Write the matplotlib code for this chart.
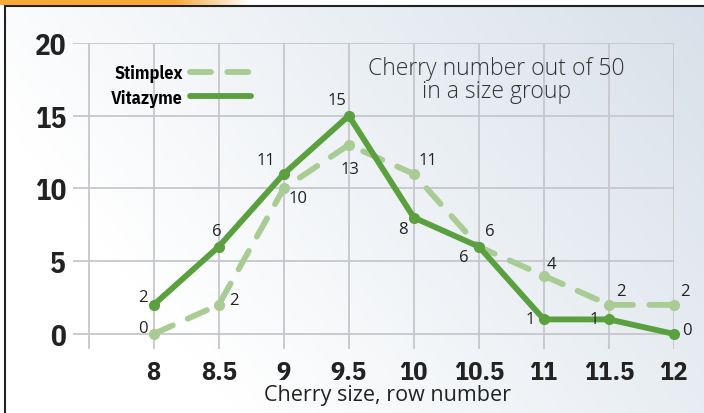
import numpy as np
import matplotlib.pyplot as plt
from matplotlib.lines import Line2D

# Cherry size (row number) and number of cherries out of 50 in each size group
sizes = [8, 8.5, 9, 9.5, 10, 10.5, 11, 11.5, 12]
stimplex = [0, 2, 10, 13, 11, 6, 4, 2, 2]
vitazyme = [2, 6, 11, 15, 8, 6, 1, 1, 0]

# label offsets in pixels for each point label
stim_off = [(-11, 6), (15, 5), (14, -10), (1, -24), (14, 14), (11, 16), (8, 12), (12, 14), (11, 14)]
vita_off = [(-11, 8), (-2, 16), (-18, 14), (-12, 16), (-11, -11), (-15, -10), (-14, 0), (-15, 0), (13, 4)]

dark = '#5aa03f'
light = '#a9cc95'
narrow = ['IBM Plex Sans Condensed', 'DejaVu Sans']
plain = ['Open Sans', 'DejaVu Sans']

fig = plt.figure(figsize=(7.04, 4.14), dpi=100)

# background: gradient panel with black top/left border and orange tab
bg = fig.add_axes([5/704, 0, 1 - 5/704, 1 - 7/414])
gx, gy = np.meshgrid(np.linspace(0, 1, 300), np.linspace(0, 1, 200))
t = np.clip(0.75*gx + 0.35*(1 - gy) - 0.25, 0, 1)
c0 = np.array([1.0, 1.0, 1.0])
c1 = np.array([0.82, 0.86, 0.90])
img = c0 + (c1 - c0)*t[..., None]
bg.imshow(img, aspect='auto', extent=[0, 1, 0, 1], origin='upper')
bg.set_xlim(0, 1)
bg.set_ylim(0, 1)
for s in ['right', 'bottom']:
    bg.spines[s].set_visible(False)
for s in ['left', 'top']:
    bg.spines[s].set_linewidth(1.5)
    bg.spines[s].set_color('#222222')
bg.set_xticks([])
bg.set_yticks([])

tab = fig.add_axes([0, 1 - 6/414, 250/704, 6/414])
ox = np.linspace(0, 1, 200)
oa = np.clip((1 - ox)/0.3, 0, 1)
tabimg = np.ones((1, 200, 4))
tabimg[..., 0] = 0.97
tabimg[..., 1] = 0.66
tabimg[..., 2] = 0.22
tabimg[..., 3] = oa
tab.imshow(tabimg, aspect='auto', extent=[0, 1, 0, 1])
tab.axis('off')

ax = fig.add_axes([73/704, 64.5/414, 601/704, 305.5/414])
ax.patch.set_alpha(0)
ax.set_xlim(7.38, 12)
ax.set_ylim(-1, 20)

ax.set_xticks(np.arange(7.5, 12.01, 0.5))
ax.set_xticklabels([''] + ['%g' % v for v in sizes])
ax.set_yticks([0, 5, 10, 15, 20])
ax.grid(True, color='#c6c7cc', linewidth=1.3)
ax.set_axisbelow(True)
for s in ax.spines.values():
    s.set_visible(False)
ax.tick_params(length=0)
ax.tick_params(axis='x', pad=8)
ax.tick_params(axis='y', pad=5)
for lab in ax.get_xticklabels():
    lab.set_fontfamily(narrow)
    lab.set_fontweight('bold')
    lab.set_fontsize(19)
    lab.set_color('#222222')
for lab in ax.get_yticklabels():
    lab.set_fontfamily(narrow)
    lab.set_fontweight('bold')
    lab.set_fontsize(21)
    lab.set_color('#222222')

ax.plot(sizes, stimplex, color=light, linewidth=4.2, dashes=(3.6, 2.8),
        dash_capstyle='round', marker='o', markersize=7, clip_on=False, zorder=3)
ax.plot(sizes, vitazyme, color=dark, linewidth=4.2, solid_capstyle='round',
        marker='o', markersize=7, clip_on=False, zorder=4)

for x, y, o in zip(sizes, stimplex, stim_off):
    ax.annotate(str(y), (x, y), xytext=o, textcoords='offset pixels', ha='center',
                va='center', fontsize=12, family=plain, color='#222222', zorder=5)
for x, y, o in zip(sizes, vitazyme, vita_off):
    ax.annotate(str(y), (x, y), xytext=o, textcoords='offset pixels', ha='center',
                va='center', fontsize=12, family=plain, color='#222222', zorder=5)

handles = [Line2D([], [], color=light, linewidth=4.2, dashes=(3.6, 2.8), dash_capstyle='round'),
           Line2D([], [], color=dark, linewidth=4.2, solid_capstyle='round')]
ax.legend(handles, ['Stimplex', 'Vitazyme'], loc='upper left', bbox_to_anchor=(0.063, 0.930),
          frameon=False, markerfirst=False, borderpad=0, borderaxespad=0, handlelength=3.4,
          handletextpad=0.4, labelspacing=0.35,
          prop={'family': narrow, 'weight': 'bold', 'size': 13})

ax.text(0.705, 17.5, 'Cherry number out of 50\nin a size group', transform=ax.get_yaxis_transform(),
        ha='center', va='center', fontsize=16.5, family=plain, fontweight=300,
        color='#333333', linespacing=0.95)

ax.set_xlabel('Cherry size, row number', fontsize=15.5, family=plain, color='#222222')
ax.xaxis.set_label_coords(0.524, -0.115)

fig.savefig('out.png', dpi=100)
